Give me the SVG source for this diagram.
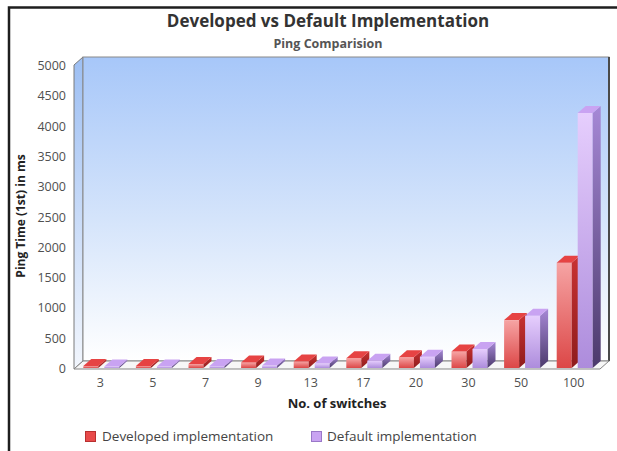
<svg xmlns="http://www.w3.org/2000/svg" width="617" height="451" viewBox="0 0 617 451">
  <defs>
    <linearGradient id="wallGrad" x1="0" y1="0" x2="0" y2="1">
      <stop offset="0" stop-color="#a7c7f9"/>
      <stop offset="0.55" stop-color="#d6e5fb"/>
      <stop offset="1" stop-color="#ffffff"/>
    </linearGradient>
    <linearGradient id="sideWallGrad" x1="0" y1="0" x2="0" y2="1">
      <stop offset="0" stop-color="#9dbff3"/>
      <stop offset="1" stop-color="#f2f6fd"/>
    </linearGradient>
    <linearGradient id="redFront" x1="0" y1="0" x2="0" y2="1">
      <stop offset="0" stop-color="#f6a4a4"/>
      <stop offset="1" stop-color="#dc4747"/>
    </linearGradient>
    <linearGradient id="redSide" x1="0" y1="0" x2="0" y2="1">
      <stop offset="0" stop-color="#c93232"/>
      <stop offset="1" stop-color="#8e1c1c"/>
    </linearGradient>
    <linearGradient id="purFront" x1="0" y1="0" x2="0" y2="1">
      <stop offset="0" stop-color="#e6cefd"/>
      <stop offset="1" stop-color="#ad8cdc"/>
    </linearGradient>
    <linearGradient id="purSide" x1="0" y1="0" x2="0" y2="1">
      <stop offset="0" stop-color="#a688d6"/>
      <stop offset="1" stop-color="#4c3a6c"/>
    </linearGradient>
    <style>
      .title { font-family: "Open Sans", "DejaVu Sans", sans-serif; font-weight: bold; fill: #333333; }
      .sub { font-family: "Open Sans", "DejaVu Sans", sans-serif; font-weight: bold; fill: #555555; }
      .tick { font-family: "Open Sans", "DejaVu Sans", sans-serif; font-size: 12.5px; fill: #505050; }
      .axis { font-family: "Open Sans", "DejaVu Sans", sans-serif; font-weight: bold; font-size: 12px; fill: #222222; }
      .legend { font-family: "Open Sans", "DejaVu Sans", sans-serif; font-size: 13.5px; fill: #444444; }
      .rf { fill: url(#redFront); }
      .rs { fill: url(#redSide); }
      .rt { fill: #e64343; }
      .pf { fill: url(#purFront); }
      .ps { fill: url(#purSide); }
      .pt { fill: #c9a3f2; }
      .frame { fill: none; stroke: #1e1e1e; stroke-width: 2.5; }
    </style>
  </defs>

  <rect width="617" height="451" fill="#ffffff"/>
  <path class="frame" d="M9,451 V7.5 H617"/>

  <!-- titles -->
  <g id="titles">
    <text class="title" x="328" y="27" font-size="17" text-anchor="middle">Developed vs Default Implementation</text>
    <text class="sub" x="328" y="48" font-size="12.5" text-anchor="middle">Ping Comparision</text>
  </g>

  <!-- plot box: left wall, back wall, floor -->
  <g id="plot-area">
    <polygon points="74,65 83,57 83,361 74,369" fill="url(#sideWallGrad)" stroke="#7a7a7a" stroke-width="1"/>
    <rect x="83" y="57" width="526" height="304" fill="url(#wallGrad)" stroke="#8a8a8a" stroke-width="1"/>
    <line x1="609" y1="57" x2="609" y2="361" stroke="#4a4a4a" stroke-width="2"/>
    <polygon points="74,369 83,361 609,361 600,369" fill="#f7f7f7" stroke="#858585" stroke-width="1"/>
  </g>

  <!-- y axis -->
  <g id="y-axis">
    <text class="tick" x="66" y="70" text-anchor="end">5000</text>
    <text class="tick" x="66" y="100.3" text-anchor="end">4500</text>
    <text class="tick" x="66" y="130.6" text-anchor="end">4000</text>
    <text class="tick" x="66" y="160.9" text-anchor="end">3500</text>
    <text class="tick" x="66" y="191.2" text-anchor="end">3000</text>
    <text class="tick" x="66" y="221.5" text-anchor="end">2500</text>
    <text class="tick" x="66" y="251.8" text-anchor="end">2000</text>
    <text class="tick" x="66" y="282.1" text-anchor="end">1500</text>
    <text class="tick" x="66" y="312.4" text-anchor="end">1000</text>
    <text class="tick" x="66" y="342.7" text-anchor="end">500</text>
    <text class="tick" x="66" y="373" text-anchor="end">0</text>
    <text class="axis" transform="translate(25,216) rotate(-90)" text-anchor="middle">Ping Time (1st) in ms</text>
  </g>

  <!-- bars: front rect, side and top faces (depth 8,-7), base y=368 -->
  <g id="bars">
    <!-- 3 -->
    <g id="bar-3">
      <rect class="rf" x="83.3" y="366" width="15" height="2"/>
      <polygon class="rs" points="98.3,368 106.3,361 106.3,359 98.3,366"/>
      <polygon class="rt" points="83.3,366 91.3,359 106.3,359 98.3,366"/>
      <rect class="pf" x="104.3" y="366.4" width="15" height="1.6"/>
      <polygon class="ps" points="119.3,368 127.3,361 127.3,359.4 119.3,366.4"/>
      <polygon class="pt" points="104.3,366.4 112.3,359.4 127.3,359.4 119.3,366.4"/>
    </g>
    <!-- 5 -->
    <g id="bar-5">
      <rect class="rf" x="135.9" y="366" width="15" height="2"/>
      <polygon class="rs" points="150.9,368 158.9,361 158.9,359 150.9,366"/>
      <polygon class="rt" points="135.9,366 143.9,359 158.9,359 150.9,366"/>
      <rect class="pf" x="156.9" y="366.4" width="15" height="1.6"/>
      <polygon class="ps" points="171.9,368 179.9,361 179.9,359.4 171.9,366.4"/>
      <polygon class="pt" points="156.9,366.4 164.9,359.4 179.9,359.4 171.9,366.4"/>
    </g>
    <!-- 7 -->
    <g id="bar-7">
      <rect class="rf" x="188.5" y="364" width="15" height="4"/>
      <polygon class="rs" points="203.5,368 211.5,361 211.5,357 203.5,364"/>
      <polygon class="rt" points="188.5,364 196.5,357 211.5,357 203.5,364"/>
      <rect class="pf" x="209.5" y="366" width="15" height="2"/>
      <polygon class="ps" points="224.5,368 232.5,361 232.5,359 224.5,366"/>
      <polygon class="pt" points="209.5,366 217.5,359 232.5,359 224.5,366"/>
    </g>
    <!-- 9 -->
    <g id="bar-9">
      <rect class="rf" x="241.1" y="362.5" width="15" height="5.5"/>
      <polygon class="rs" points="256.1,368 264.1,361 264.1,355.5 256.1,362.5"/>
      <polygon class="rt" points="241.1,362.5 249.1,355.5 264.1,355.5 256.1,362.5"/>
      <rect class="pf" x="262.1" y="365.5" width="15" height="2.5"/>
      <polygon class="ps" points="277.1,368 285.1,361 285.1,358.5 277.1,365.5"/>
      <polygon class="pt" points="262.1,365.5 270.1,358.5 285.1,358.5 277.1,365.5"/>
    </g>
    <!-- 13 -->
    <g id="bar-13">
      <rect class="rf" x="293.7" y="361.5" width="15" height="6.5"/>
      <polygon class="rs" points="308.7,368 316.7,361 316.7,354.5 308.7,361.5"/>
      <polygon class="rt" points="293.7,361.5 301.7,354.5 316.7,354.5 308.7,361.5"/>
      <rect class="pf" x="314.7" y="363.5" width="15" height="4.5"/>
      <polygon class="ps" points="329.7,368 337.7,361 337.7,356.5 329.7,363.5"/>
      <polygon class="pt" points="314.7,363.5 322.7,356.5 337.7,356.5 329.7,363.5"/>
    </g>
    <!-- 17 -->
    <g id="bar-17">
      <rect class="rf" x="346.3" y="358.3" width="15" height="9.7"/>
      <polygon class="rs" points="361.3,368 369.3,361 369.3,351.3 361.3,358.3"/>
      <polygon class="rt" points="346.3,358.3 354.3,351.3 369.3,351.3 361.3,358.3"/>
      <rect class="pf" x="367.3" y="360.7" width="15" height="7.3"/>
      <polygon class="ps" points="382.3,368 390.3,361 390.3,353.7 382.3,360.7"/>
      <polygon class="pt" points="367.3,360.7 375.3,353.7 390.3,353.7 382.3,360.7"/>
    </g>
    <!-- 20 -->
    <g id="bar-20">
      <rect class="rf" x="398.9" y="357.3" width="15" height="10.7"/>
      <polygon class="rs" points="413.9,368 421.9,361 421.9,350.3 413.9,357.3"/>
      <polygon class="rt" points="398.9,357.3 406.9,350.3 421.9,350.3 413.9,357.3"/>
      <rect class="pf" x="419.9" y="356.7" width="15" height="11.3"/>
      <polygon class="ps" points="434.9,368 442.9,361 442.9,349.7 434.9,356.7"/>
      <polygon class="pt" points="419.9,356.7 427.9,349.7 442.9,349.7 434.9,356.7"/>
    </g>
    <!-- 30 -->
    <g id="bar-30">
      <rect class="rf" x="451.5" y="351.5" width="15" height="16.5"/>
      <polygon class="rs" points="466.5,368 474.5,361 474.5,344.5 466.5,351.5"/>
      <polygon class="rt" points="451.5,351.5 459.5,344.5 474.5,344.5 466.5,351.5"/>
      <rect class="pf" x="472.5" y="349" width="15" height="19"/>
      <polygon class="ps" points="487.5,368 495.5,361 495.5,342 487.5,349"/>
      <polygon class="pt" points="472.5,349 480.5,342 495.5,342 487.5,349"/>
    </g>
    <!-- 50 -->
    <g id="bar-50">
      <rect class="rf" x="504.1" y="320.1" width="15" height="47.9"/>
      <polygon class="rs" points="519.1,368 527.1,361 527.1,313.1 519.1,320.1"/>
      <polygon class="rt" points="504.1,320.1 512.1,313.1 527.1,313.1 519.1,320.1"/>
      <rect class="pf" x="525.1" y="315.8" width="15" height="52.2"/>
      <polygon class="ps" points="540.1,368 548.1,361 548.1,308.8 540.1,315.8"/>
      <polygon class="pt" points="525.1,315.8 533.1,308.8 548.1,308.8 540.1,315.8"/>
    </g>
    <!-- 100 -->
    <g id="bar-100">
      <rect class="rf" x="556.7" y="262.8" width="15" height="105.2"/>
      <polygon class="rs" points="571.7,368 579.7,361 579.7,255.8 571.7,262.8"/>
      <polygon class="rt" points="556.7,262.8 564.7,255.8 579.7,255.8 571.7,262.8"/>
      <rect class="pf" x="577.7" y="113" width="15" height="255"/>
      <polygon class="ps" points="592.7,368 600.7,361 600.7,106 592.7,113"/>
      <polygon class="pt" points="577.7,113 585.7,106 600.7,106 592.7,113"/>
    </g>
  </g>

  <!-- x axis -->
  <g id="x-axis">
    <text class="tick" x="100.3" y="387" text-anchor="middle">3</text>
    <text class="tick" x="152.9" y="387" text-anchor="middle">5</text>
    <text class="tick" x="205.5" y="387" text-anchor="middle">7</text>
    <text class="tick" x="258.1" y="387" text-anchor="middle">9</text>
    <text class="tick" x="310.7" y="387" text-anchor="middle">13</text>
    <text class="tick" x="363.3" y="387" text-anchor="middle">17</text>
    <text class="tick" x="415.9" y="387" text-anchor="middle">20</text>
    <text class="tick" x="468.5" y="387" text-anchor="middle">30</text>
    <text class="tick" x="521.1" y="387" text-anchor="middle">50</text>
    <text class="tick" x="573.7" y="387" text-anchor="middle">100</text>
    <text class="sub" x="337" y="408" font-size="13" fill="#222222" style="fill:#222222" text-anchor="middle">No. of switches</text>
  </g>

  <!-- legend -->
  <g id="legend">
    <rect x="85.5" y="431.5" width="10" height="10" fill="#e84a4a" stroke="#b83030" stroke-width="1"/>
    <text class="legend" x="102" y="441">Developed implementation</text>
    <rect x="311.5" y="431.5" width="10" height="10" fill="#c9a3f2" stroke="#9a78c8" stroke-width="1"/>
    <text class="legend" x="327" y="441">Default implementation</text>
  </g>
</svg>
